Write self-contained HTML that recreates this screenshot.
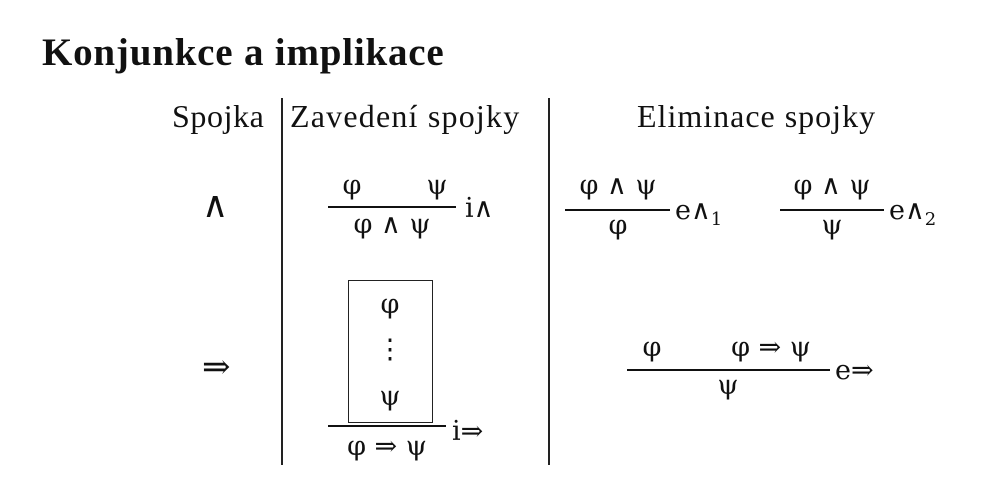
<!DOCTYPE html>
<html><head><meta charset="utf-8"><style>
body{margin:0;width:990px;height:496px;background:#fff;overflow:hidden;position:relative;font-family:"Liberation Serif","DejaVu Serif",serif;color:#111}
.t{position:absolute;font-size:28px;line-height:28px;white-space:nowrap}
.hd{font-size:32px;line-height:32px;letter-spacing:0.6px}
.m{font-family:"DejaVu Serif","Liberation Serif",serif;font-size:27px}
.op{font-size:34px}
.c{transform:translateX(-50%)}
.h{position:absolute;height:1.5px;background:#111}
.v{position:absolute;width:1.5px;background:#222}
sub{font-size:18px;vertical-align:-6px}
</style></head><body>
<div class="t" style="left:42px;top:33px;font-size:39px;line-height:39px;font-weight:bold;letter-spacing:0.8px">Konjunkce a implikace</div>

<div class="v" style="left:281px;top:98px;height:367px"></div>
<div class="v" style="left:548px;top:98px;height:367px"></div>

<div class="t hd" style="left:172px;top:100px">Spojka</div>
<div class="t hd" style="left:290px;top:100px;letter-spacing:1.2px">Zavedení spojky</div>
<div class="t hd" style="left:637px;top:100px;letter-spacing:1px">Eliminace spojky</div>

<div class="t m" style="left:202px;top:188px;font-size:36px;line-height:36px">∧</div>
<div class="t m c" style="left:352px;top:172px">φ</div>
<div class="t m c" style="left:437px;top:172px">ψ</div>
<div class="h" style="left:328px;top:206px;width:128px"></div>
<div class="t m c" style="left:392px;top:211px">φ ∧ ψ</div>
<div class="t m" style="left:465px;top:195px">i∧</div>

<div class="t m c" style="left:618px;top:172px">φ ∧ ψ</div>
<div class="h" style="left:565px;top:209px;width:105px"></div>
<div class="t m c" style="left:618px;top:212px">φ</div>
<div class="t m" style="left:675px;top:197px">e∧<sub>1</sub></div>

<div class="t m c" style="left:832px;top:172px">φ ∧ ψ</div>
<div class="h" style="left:780px;top:209px;width:104px"></div>
<div class="t m c" style="left:832px;top:212px">ψ</div>
<div class="t m" style="left:889px;top:197px">e∧<sub>2</sub></div>

<div class="t m" style="left:202px;top:350px;font-size:34px;line-height:34px">⇒</div>
<div style="position:absolute;left:348px;top:280px;width:83px;height:141px;border:1.5px solid #222"></div>
<div class="t m c" style="left:390px;top:291px">φ</div>
<div class="t m c" style="left:390px;top:336px">⋮</div>
<div class="t m c" style="left:390px;top:383px">ψ</div>
<div class="h" style="left:328px;top:425px;width:118px"></div>
<div class="t m c" style="left:387px;top:433px">φ ⇒ ψ</div>
<div class="t m" style="left:452px;top:418px">i⇒</div>

<div class="t m c" style="left:652px;top:334px">φ</div>
<div class="t m c" style="left:771px;top:334px">φ ⇒ ψ</div>
<div class="h" style="left:627px;top:369px;width:203px"></div>
<div class="t m c" style="left:728px;top:372px">ψ</div>
<div class="t m" style="left:835px;top:357px">e⇒</div>
</body></html>
